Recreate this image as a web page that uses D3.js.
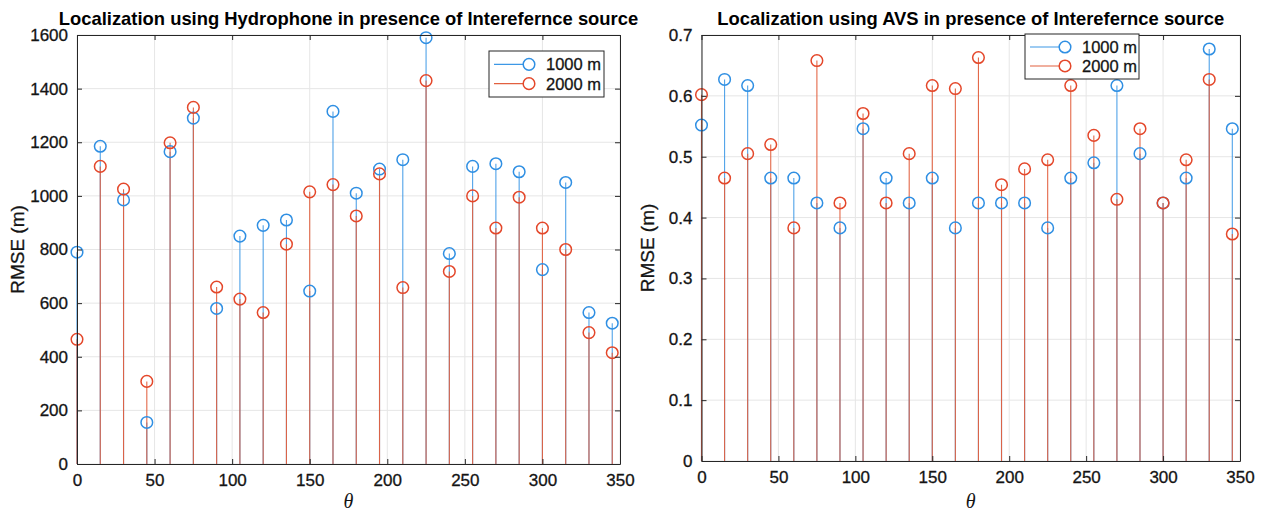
<!DOCTYPE html>
<html>
<head>
<meta charset="utf-8">
<script src="https://cdn.jsdelivr.net/npm/d3@7"></script>
<style>
  body { margin: 0; background: #fff; }
  svg { display: block; }
</style>
</head>
<body>
<svg id="chart" width="1263" height="515"></svg>
<script>
// Angles (degrees) shared by both panels
const theta = [0, 15, 30, 45, 60, 75, 90, 105, 120, 135, 150, 165,
               180, 195, 210, 225, 240, 255, 270, 285, 300, 315, 330, 345];

// Hydrophone RMSE (m)
const hydro1000 = [790, 1185, 985, 155, 1165, 1290, 580, 850, 890, 910, 645, 1315,
                   1010, 1100, 1135, 1590, 785, 1110, 1120, 1090, 725, 1050, 565, 525];
const hydro2000 = [465, 1110, 1025, 308, 1198, 1330, 660, 615, 565, 820, 1015, 1042,
                   925, 1082, 658, 1430, 718, 1000, 880, 995, 880, 800, 490, 415];

// AVS RMSE (m)
const avs1000 = [0.552, 0.627, 0.617, 0.465, 0.465, 0.424, 0.383, 0.546, 0.465, 0.424, 0.465, 0.383,
                 0.424, 0.424, 0.424, 0.383, 0.465, 0.490, 0.617, 0.505, 0.424, 0.465, 0.677, 0.546];
const avs2000 = [0.602, 0.465, 0.505, 0.520, 0.383, 0.658, 0.424, 0.571, 0.424, 0.505, 0.617, 0.612,
                 0.663, 0.454, 0.480, 0.495, 0.617, 0.535, 0.430, 0.546, 0.424, 0.495, 0.627, 0.373];

const seriesNames = ["1000 m", "2000 m"];
const xTicks = [0, 50, 100, 150, 200, 250, 300, 350];
const hydroTicks = [0, 200, 400, 600, 800, 1000, 1200, 1400, 1600];
const avsTicks = [0, 0.1, 0.2, 0.3, 0.4, 0.5, 0.6, 0.7];

const titles = ["Localization using Hydrophone in presence of Interefernce source",
                "Localization using AVS in presence of Interefernce source"];

const COLORS = ["#2f8fe3", "#e4472a"];
const STEM_COLORS = ["#3d98e6", "#e2603f"];
const FONT = "'Liberation Sans', Arial, sans-serif";
const INK = "#141414";

const svg = d3.select("#chart");

// slightly heavier glyphs for the plain labels
function ink(sel, w = 0.3) {
  return sel.attr("fill", INK).attr("stroke", INK).attr("stroke-width", w);
}

function panel(opts) {
  const { left, right, top, bottom, yMax, yTicks, yFmt, s1, s2, title, legend } = opts;
  const x = d3.scaleLinear().domain([0, 350]).range([left, right]);
  const y = d3.scaleLinear().domain([0, yMax]).range([bottom, top]);
  const g = svg.append("g");

  // grid
  g.append("g").selectAll("line").data(xTicks).join("line")
    .attr("x1", d => x(d)).attr("x2", d => x(d))
    .attr("y1", top).attr("y2", bottom)
    .attr("stroke", "#e6e6e6").attr("stroke-width", 1);
  g.append("g").selectAll("line").data(yTicks).join("line")
    .attr("x1", left).attr("x2", right)
    .attr("y1", d => y(d)).attr("y2", d => y(d))
    .attr("stroke", "#e6e6e6").attr("stroke-width", 1);

  // stems + markers
  const sets = [s1, s2];
  sets.forEach((vals, si) => {
    const data = theta.map((t, i) => ({ t, v: vals[i] }));
    g.append("g").selectAll("line").data(data).join("line")
      .attr("x1", d => x(d.t)).attr("x2", d => x(d.t))
      .attr("y1", y(0)).attr("y2", d => y(d.v))
      .attr("stroke", STEM_COLORS[si]).attr("stroke-width", 1.1)
      .attr("stroke-opacity", si === 1 ? 0.95 : 0.9);
  });
  sets.forEach((vals, si) => {
    const data = theta.map((t, i) => ({ t, v: vals[i] }));
    g.append("g").selectAll("circle").data(data).join("circle")
      .attr("cx", d => x(d.t)).attr("cy", d => y(d.v)).attr("r", 5.8)
      .attr("fill", "none").attr("stroke", COLORS[si]).attr("stroke-width", 1.5);
  });

  // axes (ticks inward on all four sides)
  const tickLen = 5;
  const axB = g.append("g").attr("transform", `translate(0,${bottom})`)
    .call(d3.axisBottom(x).tickValues(xTicks).tickSize(-tickLen).tickPadding(10).tickFormat(d3.format("d")));
  const axT = g.append("g").attr("transform", `translate(0,${top})`)
    .call(d3.axisTop(x).tickValues(xTicks).tickSize(-tickLen).tickFormat(""));
  const axL = g.append("g").attr("transform", `translate(${left},0)`)
    .call(d3.axisLeft(y).tickValues(yTicks).tickSize(-tickLen).tickPadding(9).tickFormat(yFmt));
  const axR = g.append("g").attr("transform", `translate(${right},0)`)
    .call(d3.axisRight(y).tickValues(yTicks).tickSize(-tickLen).tickFormat(""));
  [axB, axT, axL, axR].forEach(a => {
    a.select(".domain").attr("stroke", "#262626").attr("stroke-width", 1);
    a.selectAll(".tick line").attr("stroke", "#262626");
    ink(a.selectAll("text").attr("font-family", FONT).attr("font-size", 17));
  });
  // plain box edges (no end caps on the domain paths)
  [axB, axT, axL, axR].forEach(a => a.select(".domain").attr("d", function () {
    return this.getAttribute("d").replace(/^M([\d.\-]+),[\d.\-]+V([\d.\-]+)H([\d.\-]+)V[\d.\-]+$/, "M$1,$2H$3")
      .replace(/^M[\d.\-]+,([\d.\-]+)H([\d.\-]+)V([\d.\-]+)H[\d.\-]+$/, "M$2,$1V$3");
  }));

  // title
  svg.append("text").attr("x", (left + right) / 2).attr("y", 25)
    .attr("text-anchor", "middle").attr("font-family", FONT).attr("font-weight", "bold")
    .attr("font-size", 18.4).attr("fill", "#000").text(title);

  // axis labels
  ink(svg.append("text").attr("transform", `translate(${opts.yLabelX},${(top + bottom) / 2}) rotate(-90)`)
    .attr("text-anchor", "middle").attr("font-family", FONT).attr("font-size", 19)
    .text("RMSE (m)"));
  svg.append("text").attr("x", (left + right) / 2).attr("y", 508)
    .attr("text-anchor", "middle").attr("font-family", "'Liberation Serif', 'DejaVu Serif', serif")
    .attr("font-style", "italic").attr("font-size", 20).attr("fill", INK).text("θ");

  // legend
  const lg = svg.append("g").attr("transform", `translate(${legend.x},${legend.y})`);
  lg.append("rect").attr("width", legend.w).attr("height", legend.h)
    .attr("fill", "#fff").attr("stroke", "#262626").attr("stroke-width", 1);
  seriesNames.forEach((name, i) => {
    const cy = legend.h * (i === 0 ? 0.29 : 0.71);
    lg.append("line").attr("x1", 5).attr("x2", 40).attr("y1", cy).attr("y2", cy)
      .attr("stroke", STEM_COLORS[i]).attr("stroke-width", 1.1);
    lg.append("circle").attr("cx", 40).attr("cy", cy).attr("r", 5.8)
      .attr("fill", "#fff").attr("stroke", COLORS[i]).attr("stroke-width", 1.5);
    ink(lg.append("text").attr("x", 57).attr("y", cy + 6).attr("font-family", FONT)
      .attr("font-size", 16.5).text(name));
  });
}

panel({
  left: 77, right: 620, top: 35, bottom: 464, yMax: 1600, yTicks: hydroTicks,
  yFmt: d3.format("d"), s1: hydro1000, s2: hydro2000, title: titles[0], yLabelX: 24,
  legend: { x: 489, y: 51, w: 115, h: 46 }
});
panel({
  left: 701.5, right: 1240, top: 35, bottom: 461, yMax: 0.7, yTicks: avsTicks,
  yFmt: d => d === 0 ? "0" : d3.format(".1f")(d), s1: avs1000, s2: avs2000, title: titles[1], yLabelX: 654,
  legend: { x: 1025, y: 34, w: 114, h: 45 }
});
</script>
</body>
</html>
